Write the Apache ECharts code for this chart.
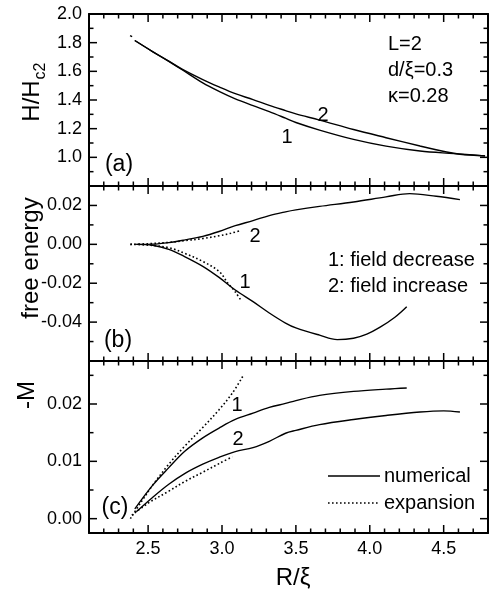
<!DOCTYPE html>
<html>
<head>
<meta charset="utf-8">
<script src="https://cdn.jsdelivr.net/npm/echarts@6/dist/echarts.min.js"></script>
<style>html,body{margin:0;padding:0;background:#fff}#c{width:498px;height:594px}</style>
</head>
<body>
<div id="c"></div>
<script>
// ---------- axis ranges and tick values ----------
const xRange = [2.1, 4.8];
const xMajorTicks = [2.5, 3.0, 3.5, 4.0, 4.5];
const xMinorTicks = [2.2, 2.3, 2.4, 2.6, 2.7, 2.8, 2.9, 3.1, 3.2, 3.3, 3.4, 3.6, 3.7, 3.8, 3.9, 4.1, 4.2, 4.3, 4.4, 4.6, 4.7];
const yaRange = [0.8, 2.0];
const yaMajorTicks = [1.0, 1.2, 1.4, 1.6, 1.8];
const yaMinorTicks = [0.9, 1.1, 1.3, 1.5, 1.7, 1.9];
const ybRange = [-0.06, 0.03];
const ybMajorTicks = [-0.04, -0.02, 0.0, 0.02];
const ybMinorTicks = [-0.05, -0.03, -0.01, 0.01];
const ycRange = [-0.0025, 0.0275];
const ycMajorTicks = [0.0, 0.01, 0.02];
const ycMinorTicks = [0.005, 0.015, 0.025];

// ---------- panel (a): H/Hc2 vs R/xi ----------
const hStartDot = [[2.378, 1.849], [2.392, 1.842]];
const hDecrease = [[2.41, 1.815], [2.53, 1.738], [2.64, 1.669], [2.73, 1.611], [2.87, 1.519], [2.98, 1.460],
  [3.09, 1.408], [3.21, 1.361], [3.32, 1.319], [3.43, 1.273], [3.50, 1.243], [3.66, 1.190], [3.89, 1.125],
  [4.11, 1.078], [4.34, 1.044], [4.57, 1.026], [4.78, 1.010]];
const hIncrease = [[2.41, 1.815], [2.53, 1.738], [2.64, 1.671], [2.73, 1.615], [2.87, 1.542], [2.98, 1.491],
  [3.09, 1.444], [3.21, 1.403], [3.32, 1.363], [3.43, 1.326], [3.50, 1.303], [3.66, 1.260], [3.89, 1.194],
  [4.11, 1.137], [4.34, 1.079], [4.52, 1.037], [4.61, 1.022], [4.78, 1.010]];

// ---------- panel (b): free energy ----------
const fDecrease = [[2.42, 0.0], [2.53, -0.0005], [2.64, -0.0026], [2.75, -0.0064], [2.87, -0.0113], [2.98, -0.0170],
  [3.09, -0.0235], [3.21, -0.0295], [3.32, -0.0353], [3.43, -0.0405], [3.50, -0.0430], [3.66, -0.0467],
  [3.78, -0.0490], [3.89, -0.0483], [3.98, -0.0462], [4.07, -0.0426], [4.17, -0.0375], [4.25, -0.0321]];
const fIncrease = [[2.42, 0.0], [2.53, 0.0001], [2.64, 0.0009], [2.75, 0.0023], [2.87, 0.0041], [2.98, 0.0066],
  [3.09, 0.0096], [3.21, 0.0122], [3.32, 0.0148], [3.43, 0.0167], [3.50, 0.0177], [3.66, 0.0195],
  [3.89, 0.0218], [4.11, 0.0244], [4.27, 0.0261], [4.45, 0.0247], [4.61, 0.0230]];
const fDecreaseExp = [[2.38, 0.0], [2.50, -0.0004], [2.64, -0.0017], [2.75, -0.0047], [2.87, -0.0088],
  [2.98, -0.0139], [3.04, -0.0200], [3.09, -0.0245], [3.13, -0.0290]];
const fIncreaseExp = [[2.38, 0.0], [2.50, 0.0003], [2.64, 0.0010], [2.75, 0.0019], [2.87, 0.0030],
  [2.98, 0.0044], [3.06, 0.0057], [3.13, 0.0072]];

// ---------- panel (c): -M ----------
const mDecrease = [[2.41, 0.0017], [2.53, 0.0058], [2.64, 0.0089], [2.75, 0.0118], [2.87, 0.0141], [2.98, 0.0158],
  [3.09, 0.0173], [3.21, 0.0184], [3.32, 0.0194], [3.43, 0.0201], [3.50, 0.0206], [3.66, 0.0215],
  [3.89, 0.0222], [4.11, 0.0226], [4.25, 0.0228]];
const mIncrease = [[2.42, 0.0012], [2.53, 0.0037], [2.64, 0.0060], [2.75, 0.0079], [2.87, 0.0095], [2.98, 0.0107],
  [3.09, 0.0117], [3.21, 0.0124], [3.32, 0.0135], [3.43, 0.0149], [3.50, 0.0154], [3.66, 0.0164],
  [3.89, 0.0173], [4.11, 0.0180], [4.34, 0.0186], [4.50, 0.0188], [4.61, 0.0186]];
const mDecreaseExp = [[2.38, 0.0], [2.45, 0.0028], [2.53, 0.0058], [2.64, 0.0095], [2.75, 0.0127], [2.87, 0.0159],
  [2.98, 0.0190], [3.07, 0.0219], [3.14, 0.0248]];
const mIncreaseExp = [[2.39, 0.0006], [2.50, 0.0027], [2.64, 0.0048], [2.75, 0.0065], [2.87, 0.0081],
  [2.98, 0.0096], [3.07, 0.0108]];

// ---------- chart ----------
const FONT = '"Liberation Sans", Arial, Helvetica, sans-serif';
const BLACK = '#000';
const MAJOR_LEN = 8, MINOR_LEN = 4.5;
const chart = echarts.init(document.getElementById('c'), null, {renderer: 'canvas'});

const panels = [
  {left: 89, top: 14, width: 399, height: 172},
  {left: 89, top: 186, width: 399, height: 175},
  {left: 89, top: 361, width: 399, height: 172}
];
const yCfg = [
  {range: yaRange, major: yaMajorTicks, minor: yaMinorTicks, spec: {interval: 0.2}, dec: 1, showMax: true},
  {range: ybRange, major: ybMajorTicks, minor: ybMinorTicks, spec: {interval: 0.02}, dec: 2, showMax: false},
  {range: ycRange, major: ycMajorTicks, minor: ycMinorTicks, spec: {splitNumber: 3}, dec: 2, showMax: false}
];
const xSpec = {splitNumber: 5};

const grids = [], xAxes = [], yAxes = [];
function frameAxis(gi, position, labels, range, spec, dec, showMax) {
  return Object.assign({
    type: 'value', gridIndex: gi, position: position, min: range[0], max: range[1],
    axisLine: {show: true, onZero: false, lineStyle: {color: BLACK, width: 2}},
    axisTick: {show: false},
    axisLabel: {show: labels, color: BLACK, fontFamily: FONT, fontSize: 18, margin: 7,
      showMinLabel: false, showMaxLabel: showMax,
      formatter: v => Number(v).toFixed(dec)},
    splitLine: {show: false}
  }, spec);
}
const mainAxisIdx = [];
panels.forEach((p, pi) => {
  const yc = yCfg[pi];
  grids.push(Object.assign({containLabel: false, show: false}, p));
  const g = grids.length - 1;
  mainAxisIdx.push({x: xAxes.length, y: yAxes.length});
  xAxes.push(frameAxis(g, 'bottom', pi === 2, xRange, xSpec, 1, false));
  xAxes.push(frameAxis(g, 'top', false, xRange, xSpec, 1, false));
  yAxes.push(frameAxis(g, 'left', true, yc.range, yc.spec, yc.dec, yc.showMax));
  yAxes.push(frameAxis(g, 'right', false, yc.range, yc.spec, yc.dec, false));
});

const DOT = [1.6, 2.4];
function line(data, pi, dotted) {
  return {
    type: 'line', xAxisIndex: mainAxisIdx[pi].x, yAxisIndex: mainAxisIdx[pi].y, data: data,
    showSymbol: false, symbol: 'none', smooth: 0.35, silent: true,
    lineStyle: {color: BLACK, width: dotted ? 1.6 : 1.4, type: dotted ? DOT : 'solid'},
    z: 3
  };
}
const series = [
  line(hStartDot, 0, false), line(hDecrease, 0, false), line(hIncrease, 0, false),
  line(fDecrease, 1, false), line(fIncrease, 1, false), line(fDecreaseExp, 1, true), line(fIncreaseExp, 1, true),
  line(mDecrease, 2, false), line(mIncrease, 2, false), line(mDecreaseExp, 2, true), line(mIncreaseExp, 2, true)
];

function txt(text, x, y, size, align, rot) {
  return {
    type: 'text', x: x, y: y, rotation: rot || 0, silent: true, z: 10,
    style: {text: text, font: size + 'px ' + FONT, fill: BLACK,
      align: align || 'center', verticalAlign: 'middle',
      textAlign: align || 'center', textVerticalAlign: 'middle'}
  };
}
const R = Math.PI / 2;
const graphics = [
  txt('H/H', 32, 101, 24, 'center', R),
  txt('c2', 41, 71, 16, 'center', R),
  txt('free energy', 31, 258, 24, 'center', R),
  txt('-M', 27, 395, 24, 'center', R),
  txt('R/ξ', 293, 578, 24, 'center'),
  txt('(a)', 119, 165, 23, 'center'),
  txt('(b)', 118, 341, 23, 'center'),
  txt('(c)', 115, 508, 23, 'center'),
  txt('L=2', 388, 44, 20, 'left'),
  txt('d/ξ=0.3', 388, 70, 20, 'left'),
  txt('κ=0.28', 388, 96, 20, 'left'),
  txt('1', 287, 137, 20, 'center'),
  txt('2', 323, 115, 20, 'center'),
  txt('2', 255, 236, 20, 'center'),
  txt('1', 245, 282, 20, 'center'),
  txt('1: field decrease', 328, 260, 20, 'left'),
  txt('2: field increase', 328, 286, 20, 'left'),
  txt('1', 237, 405, 20, 'center'),
  txt('2', 238, 439, 20, 'center'),
  {type: 'line', silent: true, z: 10, shape: {x1: 328, y1: 476, x2: 380, y2: 476},
    style: {stroke: BLACK, lineWidth: 1.4}},
  {type: 'line', silent: true, z: 10, shape: {x1: 328, y1: 503, x2: 380, y2: 503},
    style: {stroke: BLACK, lineWidth: 1.6, lineDash: DOT}},
  txt('numerical', 384, 476, 20, 'left'),
  txt('expansion', 384, 503, 20, 'left')
];

chart.setOption({
  animation: false,
  backgroundColor: '#fff',
  grid: grids,
  xAxis: xAxes,
  yAxis: yAxes,
  series: series
});

// ---------- inward tick marks on all four sides, positioned through each panel's axes ----------
function seg(x1, y1, x2, y2) {
  return {type: 'line', silent: true, z: 20, zlevel: 0,
    shape: {x1: x1, y1: y1, x2: x2, y2: y2},
    style: {stroke: BLACK, lineWidth: 1.5, opacity: 1}};
}
function num(v) { return typeof v === 'number' && isFinite(v); }
const tickMarks = [];
panels.forEach((p, pi) => {
  const yc = yCfg[pi];
  const xi = mainAxisIdx[pi].x, yi = mainAxisIdx[pi].y;
  // map a data point through the panel's cartesian; fall back to the axis-only finder
  function toPx(x, y) {
    let r = null;
    try { r = chart.convertToPixel({xAxisIndex: xi, yAxisIndex: yi}, [x, y]); } catch (e) { r = null; }
    if (!r || !num(r[0]) || !num(r[1])) {
      try { r = chart.convertToPixel({gridIndex: pi}, [x, y]); } catch (e) { r = null; }
    }
    if (!r || !num(r[0]) || !num(r[1])) {
      const fx = (x - xRange[0]) / (xRange[1] - xRange[0]);
      const fy = (y - yc.range[0]) / (yc.range[1] - yc.range[0]);
      r = [p.left + fx * p.width, p.top + p.height - fy * p.height];
    }
    return r;
  }
  const bl = toPx(xRange[0], yc.range[0]);
  const tr = toPx(xRange[1], yc.range[1]);
  const left = bl[0], bottom = bl[1], right = tr[0], top = tr[1];
  [[xMajorTicks, MAJOR_LEN], [xMinorTicks, MINOR_LEN]].forEach(([vals, len]) => {
    vals.forEach(v => {
      const px = toPx(v, yc.range[0])[0];
      tickMarks.push(seg(px, bottom, px, bottom - len));
      tickMarks.push(seg(px, top, px, top + len));
    });
  });
  [[yc.major, MAJOR_LEN], [yc.minor, MINOR_LEN]].forEach(([vals, len]) => {
    vals.forEach(v => {
      const py = toPx(xRange[0], v)[1];
      tickMarks.push(seg(left, py, left + len, py));
      tickMarks.push(seg(right, py, right - len, py));
    });
  });
});

chart.setOption({graphic: {elements: graphics.concat(tickMarks)}});
</script>
</body>
</html>
